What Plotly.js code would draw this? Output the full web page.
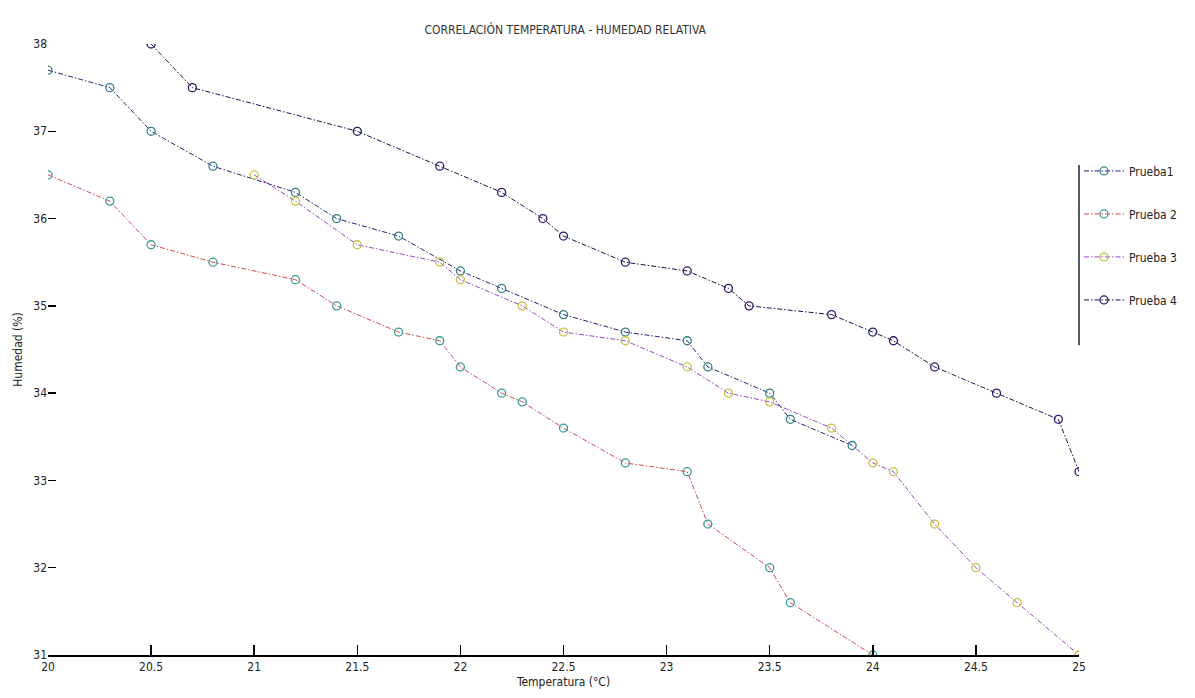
<!DOCTYPE html>
<html>
<head>
<meta charset="utf-8">
<script src="https://cdn.plot.ly/plotly-3.0.1.min.js"></script>
<style>html,body{margin:0;padding:0;background:#fff;}#chart{width:1195px;height:698px;}</style>
</head>
<body>
<div id="chart"></div>
<script>
// Prueba 1
const p1_x = [20.0, 20.3, 20.5, 20.8, 21.2, 21.4, 21.7, 22.0, 22.2, 22.5, 22.8, 23.1, 23.2, 23.5, 23.6, 23.9];
const p1_y = [37.7, 37.5, 37.0, 36.6, 36.3, 36.0, 35.8, 35.4, 35.2, 34.9, 34.7, 34.6, 34.3, 34.0, 33.7, 33.4];
// Prueba 2
const p2_x = [20.0, 20.3, 20.5, 20.8, 21.2, 21.4, 21.7, 21.9, 22.0, 22.2, 22.3, 22.5, 22.8, 23.1, 23.2, 23.5, 23.6, 24.0];
const p2_y = [36.5, 36.2, 35.7, 35.5, 35.3, 35.0, 34.7, 34.6, 34.3, 34.0, 33.9, 33.6, 33.2, 33.1, 32.5, 32.0, 31.6, 31.0];
// Prueba 3
const p3_x = [21.0, 21.2, 21.5, 21.9, 22.0, 22.3, 22.5, 22.8, 23.1, 23.3, 23.5, 23.8, 24.0, 24.1, 24.3, 24.5, 24.7, 25.0];
const p3_y = [36.5, 36.2, 35.7, 35.5, 35.3, 35.0, 34.7, 34.6, 34.3, 34.0, 33.9, 33.6, 33.2, 33.1, 32.5, 32.0, 31.6, 31.0];
// Prueba 4
const p4_x = [20.5, 20.7, 21.5, 21.9, 22.2, 22.4, 22.5, 22.8, 23.1, 23.3, 23.4, 23.8, 24.0, 24.1, 24.3, 24.6, 24.9, 25.0];
const p4_y = [38.0, 37.5, 37.0, 36.6, 36.3, 36.0, 35.8, 35.5, 35.4, 35.2, 35.0, 34.9, 34.7, 34.6, 34.3, 34.0, 33.7, 33.1];

const seriesNames = ['Prueba1', 'Prueba 2', 'Prueba 3', 'Prueba 4'];
const xTicks = [20, 20.5, 21, 21.5, 22, 22.5, 23, 23.5, 24, 24.5, 25];
const yTicks = [31, 32, 33, 34, 35, 36, 37, 38];

const lineColors = ['#22227a', '#d24a4a', '#9a44c4', '#141450'];
const markerColors = ['#2f7f80', '#3a9a9a', '#c8c040', '#20206e'];
const data = [[p1_x, p1_y], [p2_x, p2_y], [p3_x, p3_y], [p4_x, p4_y]];

const font = "'Liberation Sans Narrow', 'DejaVu Sans Condensed', 'Liberation Sans', sans-serif";

const traces = data.map((d, i) => ({
  x: d[0], y: d[1], type: 'scatter', mode: 'lines+markers',
  name: seriesNames[i], legendgroup: 'g' + i,
  line: {color: lineColors[i], width: 1, dash: '5px,2px,1.5px,2px'},
  marker: {symbol: 'circle-open', size: 8, color: markerColors[i], line: {width: 1.3, color: markerColors[i]}}
}));

const layout = {
  width: 1195, height: 698,
  margin: {l: 48, r: 112, t: 44, b: 43},
  paper_bgcolor: '#fff', plot_bgcolor: '#fff',
  showlegend: true,
  font: {family: font, size: 12, color: '#222'},
  title: {text: 'CORRELACIÓN TEMPERATURA - HUMEDAD RELATIVA', x: 0.473, xanchor: 'center', y: 0.958, yanchor: 'middle', font: {family: font, size: 12, color: '#333'}},
  xaxis: {
    range: [20, 25], tickvals: xTicks, ticktext: xTicks.map(String),
    showgrid: false, zeroline: false, showline: true, linecolor: '#000', linewidth: 1.5,
    ticks: 'inside', ticklen: 10, tickcolor: '#000', tickwidth: 1.5,
    tickfont: {family: font, size: 12, color: '#222'},
    title: {text: 'Temperatura (°C)', standoff: 4, font: {family: font, size: 12, color: '#222'}}
  },
  yaxis: {
    range: [31, 38], tickvals: yTicks, ticktext: yTicks.map(String),
    showgrid: false, zeroline: false, showline: false,
    ticks: 'inside', ticklen: 8, tickcolor: '#000', tickwidth: 1.5,
    tickfont: {family: font, size: 12, color: '#222'},
    title: {text: 'Humedad (%)', standoff: 8, font: {family: font, size: 12, color: '#222'}}
  },
  legend: {
    x: 1.0, xanchor: 'left', y: 0.816, yanchor: 'top',
    bgcolor: 'rgba(0,0,0,0)', borderwidth: 0,
    tracegroupgap: 24, itemwidth: 40,
    font: {family: font, size: 12, color: '#222'}
  },
  shapes: [
    {type: 'line', xref: 'paper', yref: 'paper', x0: 1.0, x1: 1.0, y0: 0.507, y1: 0.802, line: {color: '#222', width: 1.5}}
  ]
};

Plotly.newPlot('chart', traces, layout, {displayModeBar: false, staticPlot: true});
</script>
</body>
</html>
